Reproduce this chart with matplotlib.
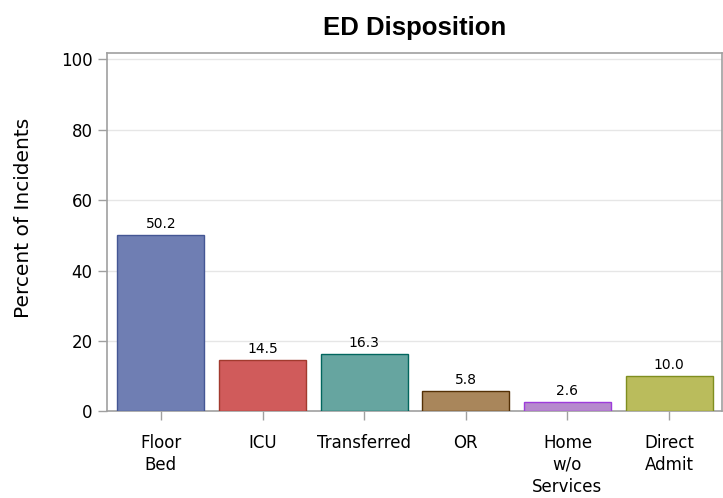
import matplotlib
matplotlib.use('Agg')
import matplotlib.pyplot as plt
import numpy as np

plt.rcParams['font.family'] = ['DejaVu Sans']

# data
categories = ['Floor\nBed', 'ICU', 'Transferred', 'OR', 'Home\nw/o\nServices', 'Direct\nAdmit']
percents = [50.2, 14.5, 16.3, 5.8, 2.6, 10.0]
fills = ['#6F7EB3', '#D05B5B', '#66A5A0', '#A9865B', '#B689CD', '#BABC5C']
edges = ['#445694', '#A23A2E', '#01665E', '#543005', '#9D3CDB', '#7F8E1F']

fig, ax = plt.subplots(figsize=(7.23, 4.98), dpi=100)
fig.subplots_adjust(left=0.148, right=0.9986, top=0.8936, bottom=0.1737)

x = np.arange(len(categories))
bars = ax.bar(x, percents, width=0.855, color=fills, edgecolor=edges, linewidth=1, zorder=3)

for b, v in zip(bars, percents):
    ax.annotate('{:.1f}'.format(v), (b.get_x() + b.get_width() / 2, v),
                xytext=(0, 3), textcoords='offset points',
                ha='center', va='bottom', fontsize=10)

ax.set_xlim(-0.53, len(categories) - 0.48)
ax.set_ylim(0, 101.8)
ax.set_yticks([0, 20, 40, 60, 80, 100])
ax.set_xticks(x)
ax.set_xticklabels(categories, linespacing=1.28)
ax.yaxis.grid(True, color='#E6E6E6', linewidth=1, zorder=0)
ax.set_axisbelow(True)

for s in ax.spines.values():
    s.set_color('#A0A0A0')
    s.set_linewidth(1.2)
ax.tick_params(axis='both', colors='#A0A0A0', length=6.5, width=1, labelcolor='black', labelsize=12)
ax.tick_params(axis='x', pad=9.5)
ax.tick_params(axis='y', pad=4)

ax.set_ylabel('Percent of Incidents', fontsize=14.5)
ax.yaxis.set_label_coords(-0.1205, 0.54)
ax.set_title('ED Disposition', fontsize=18.5, fontweight='bold',
             family=['Liberation Sans', 'DejaVu Sans'], pad=13)

plt.savefig('out.png', dpi=100)
